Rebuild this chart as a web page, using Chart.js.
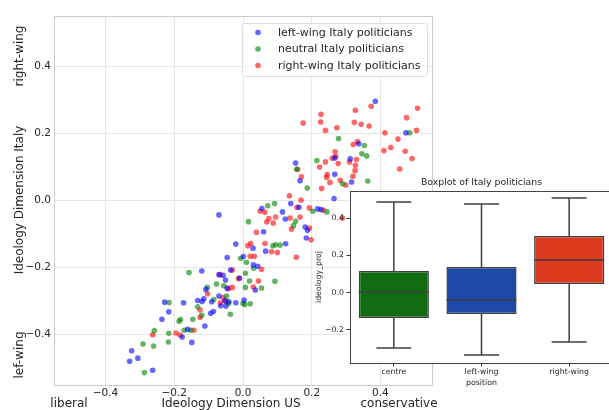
<!DOCTYPE html>
<html>
<head>
<meta charset="utf-8">
<script src="https://cdn.jsdelivr.net/npm/chart.js@4.4.0/dist/chart.umd.min.js"></script>
<style>
html, body { margin: 0; padding: 0; background: #fff; overflow: hidden; }
#wrap { position: relative; width: 609px; height: 410px; overflow: hidden; }
#mainChart { position: absolute; left: 0; top: 0; }
#boxChart { position: absolute; left: 300px; top: 170px; }
</style>
</head>
<body>
<div id="wrap">
  <canvas id="mainChart" width="609" height="410"></canvas>
  <canvas id="boxChart" width="320" height="240"></canvas>
</div>
<script>
// scatter data: [ideology US, ideology Italy]
const leftWing = [
  [-0.330,-0.479],[-0.324,-0.448],[-0.306,-0.470],[-0.263,-0.506],[-0.236,-0.354],[-0.228,-0.303],
  [-0.216,-0.332],[-0.173,-0.305],[-0.177,-0.407],[-0.161,-0.384],[-0.149,-0.423],[-0.132,-0.298],
  [-0.119,-0.301],[-0.114,-0.293],[-0.111,-0.374],[-0.094,-0.336],[-0.086,-0.331],[-0.108,-0.265],
  [-0.091,-0.302],[-0.070,-0.285],[-0.065,-0.314],[-0.053,-0.299],[-0.041,-0.302],[-0.021,-0.305],
  [-0.050,-0.315],[0.003,-0.297],[-0.070,-0.221],[-0.058,-0.223],[-0.051,-0.237],[-0.046,-0.262],
  [-0.036,-0.207],[-0.010,-0.231],[-0.120,-0.210],[0.036,-0.267],[-0.046,-0.170],[0.001,-0.167],
  [0.030,-0.192],[0.043,-0.196],[-0.021,-0.130],[0.029,-0.142],[0.066,-0.151],[0.124,-0.129],
  [0.060,-0.093],[-0.070,-0.043],[0.055,-0.024],[0.115,-0.034],[0.123,-0.055],[0.139,-0.009],
  [0.163,-0.020],[0.181,-0.079],[0.188,-0.089],[0.184,-0.112],[0.217,-0.025],[0.227,-0.027],
  [0.265,0.006],[0.166,0.059],[0.153,0.112],[0.267,0.127],[0.267,0.078],[0.385,0.296],
  [0.474,0.202],[0.337,0.169],[0.312,0.124],[0.316,0.055]
];
const neutral = [
  [-0.287,-0.513],[-0.291,-0.428],[-0.260,-0.434],[-0.258,-0.388],[-0.216,-0.396],[-0.217,-0.422],
  [-0.215,-0.304],[-0.186,-0.360],[-0.182,-0.355],[-0.171,-0.387],[-0.152,-0.387],[-0.146,-0.354],
  [-0.132,-0.317],[-0.120,-0.342],[-0.085,-0.295],[-0.048,-0.285],[-0.042,-0.307],[-0.037,-0.339],
  [0.000,-0.307],[0.005,-0.310],[0.021,-0.308],[-0.157,-0.215],[-0.104,-0.259],[-0.077,-0.249],
  [-0.056,-0.254],[0.007,-0.259],[0.007,-0.217],[0.019,-0.240],[0.054,-0.261],[0.093,-0.241],
  [0.031,-0.202],[0.010,-0.184],[-0.007,-0.172],[0.087,-0.135],[0.095,-0.132],[0.108,-0.133],
  [0.016,-0.063],[0.072,-0.016],[0.092,-0.009],[0.153,-0.062],[0.147,-0.075],[0.203,-0.032],
  [0.244,-0.034],[0.187,0.037],[0.156,0.093],[0.215,0.119],[0.278,0.185],[0.290,0.050],
  [0.353,0.164],[0.346,0.139],[0.360,0.133],[0.363,0.058],[0.485,0.202]
];
const rightWing = [
  [-0.263,-0.400],[-0.195,-0.395],[-0.183,-0.401],[-0.143,-0.387],[-0.125,-0.326],[-0.125,-0.348],
  [-0.103,-0.278],[-0.066,-0.305],[-0.058,-0.289],[-0.050,-0.300],[-0.042,-0.262],[-0.031,-0.259],
  [0.030,-0.258],[-0.067,-0.221],[-0.031,-0.207],[-0.013,-0.233],[0.045,-0.240],[0.054,-0.205],
  [0.021,-0.166],[0.033,-0.166],[0.022,-0.128],[0.014,-0.135],[0.064,-0.128],[0.083,-0.153],
  [0.100,-0.155],[0.155,-0.169],[0.039,-0.095],[0.050,-0.032],[0.064,-0.035],[0.075,-0.054],
  [0.069,-0.064],[0.088,-0.067],[0.095,-0.049],[0.137,-0.052],[0.141,-0.085],[0.169,0.001],
  [0.157,-0.020],[0.193,-0.022],[0.234,-0.029],[0.166,-0.049],[0.193,-0.082],[0.198,-0.117],
  [0.289,-0.052],[0.135,0.014],[0.170,0.071],[0.159,0.093],[0.223,0.100],[0.240,0.115],
  [0.260,0.126],[0.268,0.145],[0.270,0.131],[0.277,0.110],[0.245,0.077],[0.243,0.069],
  [0.253,0.054],[0.283,0.060],[0.299,0.046],[0.229,0.036],[0.175,0.231],[0.227,0.257],
  [0.226,0.234],[0.240,0.209],[0.273,0.217],[0.373,0.281],[0.327,0.269],[0.508,0.275],
  [0.324,0.233],[0.344,0.227],[0.367,0.222],[0.476,0.247],[0.505,0.209],[0.413,0.202],
  [0.451,0.183],[0.333,0.176],[0.321,0.167],[0.430,0.158],[0.410,0.149],[0.472,0.147],
  [0.492,0.125],[0.330,0.122],[0.310,0.115],[0.327,0.105],[0.326,0.089],[0.456,0.094],
  [0.320,0.072]
];
const axisTicks = [-0.4, -0.2, 0.0, 0.2, 0.4];

// boxplot data
const boxCategories = ["centre", "left-wing", "right-wing"];
const boxMin = [-0.296, -0.334, -0.264];
const boxQ1 = [-0.136, -0.114, 0.047];
const boxMedian = [0.004, -0.039, 0.175];
const boxQ3 = [0.116, 0.138, 0.304];
const boxMax = [0.486, 0.475, 0.507];
const boxTicks = [-0.2, 0.0, 0.2, 0.4];
const boxColors = ["#106c10", "#1c49a9", "#dc3a1f"];

const FONT = "DejaVu Sans";
const TEXT = "#262626";

function fmt(v) {
    return (v < -1e-9 ? "\u2212" : "") + Math.abs(v).toFixed(1);
}
function toXY(list) {
    return list.map(p => ({x: p[0], y: p[1]}));
}

// top/right spines of the main axes
const mainFrame = {
    id: "mainFrame",
    beforeDatasetsDraw(chart) {
        const {ctx, chartArea: a} = chart;
        ctx.save();
        ctx.strokeStyle = "#cccccc";
        ctx.lineWidth = 1;
        ctx.beginPath();
        ctx.moveTo(a.left, a.top + 0.5);
        ctx.lineTo(a.right + 0.5, a.top + 0.5);
        ctx.lineTo(a.right + 0.5, a.bottom);
        ctx.stroke();
        ctx.restore();
    }
};

// legend in the upper right of the scatter
const mainLegend = {
    id: "mainLegend",
    afterDraw(chart) {
        const ctx = chart.ctx;
        ctx.save();
        ctx.beginPath();
        ctx.roundRect(242.5, 23.5, 185, 53, 3);
        ctx.fillStyle = "rgba(255,255,255,0.8)";
        ctx.fill();
        ctx.strokeStyle = "#dddddd";
        ctx.lineWidth = 1;
        ctx.stroke();
        ctx.font = "11px '" + FONT + "'";
        ctx.textBaseline = "middle";
        chart.data.datasets.forEach((ds, i) => {
            const y = 32.5 + i * 16.5;
            ctx.fillStyle = ds.backgroundColor;
            ctx.beginPath();
            ctx.arc(258, y, 2.8, 0, Math.PI * 2);
            ctx.fill();
            ctx.fillStyle = TEXT;
            ctx.fillText(ds.label, 278, y + 0.5);
        });
        ctx.restore();
    }
};

// axis labels with their end words
const mainLabels = {
    id: "mainLabels",
    afterDraw(chart) {
        const ctx = chart.ctx;
        ctx.save();
        ctx.font = "12px '" + FONT + "'";
        ctx.fillStyle = TEXT;
        ctx.textAlign = "center";
        ctx.textBaseline = "middle";
        ctx.fillText("liberal", 69, 404);
        ctx.fillText("Ideology Dimension US", 231, 404);
        ctx.fillText("conservative", 399, 404);
        [["right-wing", 56], ["Ideology Dimension Italy", 200], ["lef-wing", 355]].forEach(t => {
            ctx.save();
            ctx.translate(20, t[1]);
            ctx.rotate(-Math.PI / 2);
            ctx.fillText(t[0], 0, 0);
            ctx.restore();
        });
        ctx.restore();
    }
};

let mainCtx = document.getElementById("mainChart").getContext("2d");
let mainChart = new Chart(mainCtx, {
    type: "scatter",
    data: {
        datasets: [
            {label: "left-wing Italy politicians", data: toXY(leftWing), backgroundColor: "rgba(0,0,255,0.6)"},
            {label: "neutral Italy politicians", data: toXY(neutral), backgroundColor: "rgba(0,128,0,0.6)"},
            {label: "right-wing Italy politicians", data: toXY(rightWing), backgroundColor: "rgba(255,0,0,0.6)"}
        ]
    },
    options: {
        responsive: false,
        animation: false,
        devicePixelRatio: 1,
        elements: {point: {radius: 2.8, hoverRadius: 2.8, borderWidth: 0}},
        layout: {padding: {left: 0, top: 16, right: 177, bottom: 0}},
        plugins: {legend: {display: false}, tooltip: {enabled: false}},
        scales: {
            x: {
                type: "linear", min: -0.55, max: 0.55,
                afterBuildTicks: s => { s.ticks = axisTicks.map(v => ({value: v})); },
                afterFit: s => { s.height = 25; },
                grid: {color: "#e6e6e6", drawTicks: false},
                border: {color: "#cccccc"},
                ticks: {padding: 2, color: TEXT, maxRotation: 0, font: {family: FONT, size: 10.5}, callback: v => fmt(v)}
            },
            y: {
                type: "linear", min: -0.55, max: 0.55,
                afterBuildTicks: s => { s.ticks = axisTicks.map(v => ({value: v})); },
                afterFit: s => { s.width = 54; },
                grid: {color: "#e6e6e6", drawTicks: false},
                border: {color: "#cccccc"},
                ticks: {padding: 3, color: TEXT, font: {family: FONT, size: 10.5}, callback: v => fmt(v)}
            }
        }
    },
    plugins: [mainFrame, mainLegend, mainLabels]
});

// white axes background + frame of the inset
const boxFrame = {
    id: "boxFrame",
    beforeDraw(chart) {
        const {ctx, chartArea: a} = chart;
        ctx.save();
        ctx.fillStyle = "#ffffff";
        ctx.fillRect(a.left, a.top, a.right - a.left, a.bottom - a.top);
        ctx.restore();
    },
    afterDraw(chart) {
        const {ctx, chartArea: a} = chart;
        ctx.save();
        ctx.strokeStyle = "#444444";
        ctx.lineWidth = 1;
        ctx.beginPath();
        ctx.moveTo(a.left, a.top + 0.5);
        ctx.lineTo(a.right + 0.5, a.top + 0.5);
        ctx.lineTo(a.right + 0.5, a.bottom);
        ctx.stroke();
        ctx.restore();
    }
};

// whiskers, caps and medians
const boxWhiskers = {
    id: "boxWhiskers",
    afterDatasetsDraw(chart) {
        const {ctx, scales: {x, y}} = chart;
        const meta = chart.getDatasetMeta(0);
        ctx.save();
        ctx.strokeStyle = "#3f3f3f";
        ctx.lineWidth = 1.5;
        const line = (x1, y1, x2, y2) => {
            ctx.beginPath();
            ctx.moveTo(x1, y1);
            ctx.lineTo(x2, y2);
            ctx.stroke();
        };
        boxCategories.forEach((c, i) => {
            const cx = x.getPixelForValue(i);
            const half = meta.data[i].width / 2;
            line(cx, y.getPixelForValue(boxQ3[i]), cx, y.getPixelForValue(boxMax[i]));
            line(cx, y.getPixelForValue(boxQ1[i]), cx, y.getPixelForValue(boxMin[i]));
            line(cx - half / 2, y.getPixelForValue(boxMax[i]), cx + half / 2, y.getPixelForValue(boxMax[i]));
            line(cx - half / 2, y.getPixelForValue(boxMin[i]), cx + half / 2, y.getPixelForValue(boxMin[i]));
            line(cx - half, y.getPixelForValue(boxMedian[i]), cx + half, y.getPixelForValue(boxMedian[i]));
        });
        ctx.restore();
    }
};

const boxLabels = {
    id: "boxLabels",
    afterDraw(chart) {
        const {ctx, chartArea: a} = chart;
        const mid = (a.left + a.right) / 2;
        ctx.save();
        ctx.fillStyle = TEXT;
        ctx.textAlign = "center";
        ctx.textBaseline = "middle";
        ctx.font = "9.4px '" + FONT + "'";
        ctx.fillText("Boxplot of Italy politicians", mid, 13);
        ctx.font = "7.8px '" + FONT + "'";
        ctx.fillText("position", mid, 213);
        ctx.translate(18.5, (a.top + a.bottom) / 2);
        ctx.rotate(-Math.PI / 2);
        ctx.fillText("ideology_proj", 0, 0);
        ctx.restore();
    }
};

let boxCtx = document.getElementById("boxChart").getContext("2d");
let boxChart = new Chart(boxCtx, {
    type: "bar",
    data: {
        labels: boxCategories,
        datasets: [{
            data: boxCategories.map((c, i) => [boxQ1[i], boxQ3[i]]),
            backgroundColor: boxColors,
            borderColor: "#3f3f3f",
            borderWidth: 1.5,
            borderSkipped: false,
            barPercentage: 0.8,
            categoryPercentage: 1.0
        }]
    },
    options: {
        responsive: false,
        animation: false,
        devicePixelRatio: 1,
        layout: {padding: {left: 0, top: 21, right: 7, bottom: 0}},
        plugins: {legend: {display: false}, tooltip: {enabled: false}},
        scales: {
            x: {
                afterFit: s => { s.height = 47; },
                grid: {offset: false, drawOnChartArea: false, drawTicks: true, tickLength: 3.5, color: "#333333"},
                border: {color: "#444444"},
                ticks: {padding: 1, color: TEXT, maxRotation: 0, font: {family: FONT, size: 7.8}}
            },
            y: {
                min: -0.377, max: 0.545,
                afterBuildTicks: s => { s.ticks = boxTicks.map(v => ({value: v})); },
                afterFit: s => { s.width = 50; },
                grid: {drawOnChartArea: false, drawTicks: true, tickLength: 3.5, color: "#333333"},
                border: {color: "#444444"},
                ticks: {padding: 2.5, color: TEXT, font: {family: FONT, size: 7.8}, callback: v => fmt(v)}
            }
        }
    },
    plugins: [boxFrame, boxWhiskers, boxLabels]
});
</script>
</body>
</html>
